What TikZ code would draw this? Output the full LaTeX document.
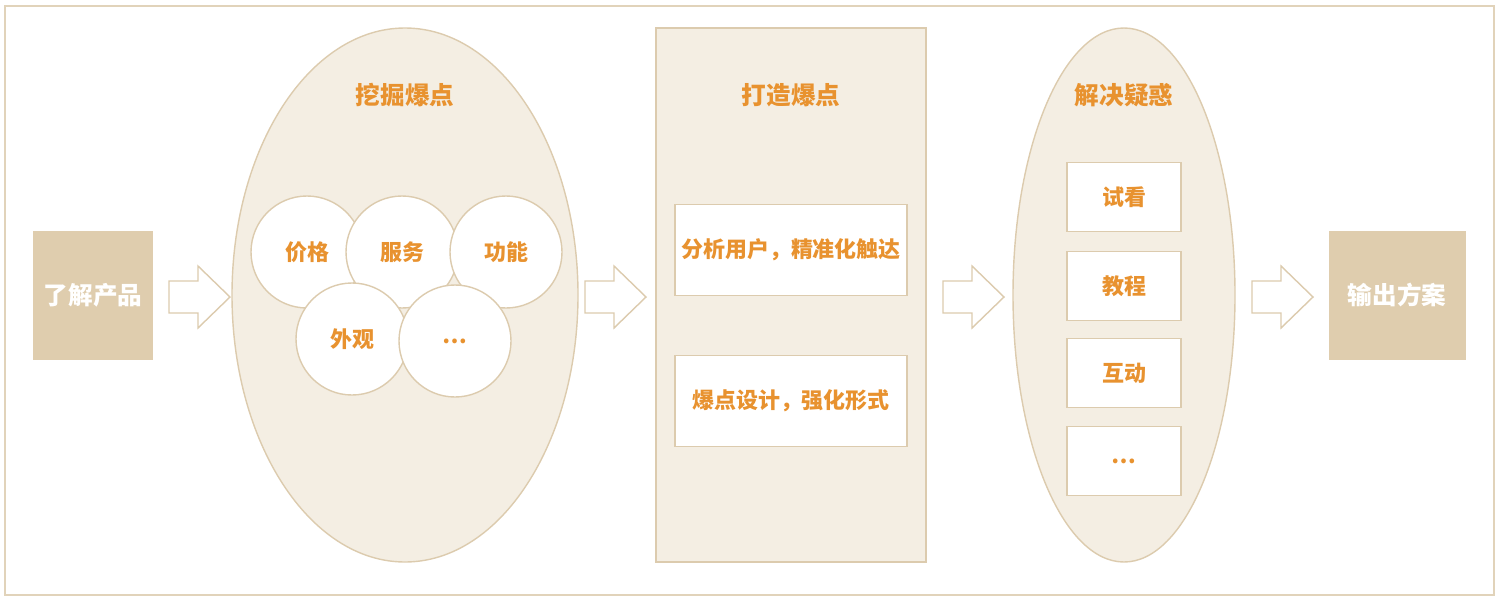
\documentclass[tikz,border=0pt]{standalone}
\usepackage{fontspec}
\newfontfamily\cjk{Noto Sans CJK SC}
\definecolor{sand}{HTML}{DFCDAE}
\definecolor{cream}{HTML}{F4EEE3}
\definecolor{edge}{HTML}{DCCBAE}
\definecolor{amber}{HTML}{E8922F}
\tikzset{
  endbox/.style={draw=none,fill=sand,minimum width=120*0.02cm,minimum height=129*0.02cm,
    text=white,font=\cjk\bfseries\fontsize{14}{16}\selectfont},
  stage/.style={draw=edge,fill=cream,line width=0.8pt},
  title/.style={text=amber,font=\cjk\bfseries\fontsize{14}{16}\selectfont},
  ball/.style={circle,draw=edge,fill=white,line width=0.8pt,minimum size=112*0.02cm,
    text=amber,font=\cjk\bfseries\fontsize{12.5}{14}\selectfont},
  card/.style={draw=edge,fill=white,line width=0.8pt,
    text=amber,font=\cjk\bfseries\fontsize{12.5}{14}\selectfont},
  fat/.style={draw=edge,fill=white,line width=0.8pt,line join=miter}
}
\begin{document}
\begin{tikzpicture}[x=0.02cm,y=-0.02cm]
  \useasboundingbox (0,0) rectangle (1500,602);
  \draw[draw=edge!85,line width=0.9pt] (5,6) rectangle (1494,595);
  % stages
  \draw[stage] (405,295) ellipse [x radius=173,y radius=267];
  \draw[stage] (656,28) rectangle (926,562);
  \draw[stage] (1124,295) ellipse [x radius=111,y radius=267];
  \node[title] (dig) at (405,95) {挖掘爆点};
  \node[title] (make) at (791,95) {打造爆点};
  \node[title] (solve) at (1124,95) {解决疑惑};
  % ends
  \node[endbox] (know) at (93,295) {了解产品};
  \node[endbox,minimum width=137*0.02cm] (plan) at (1397,295) {输出方案};
  % circles
  \node[ball] (price) at (307,252) {价格};
  \node[ball] (service) at (402,252) {服务};
  \node[ball] (func) at (506,252) {功能};
  \node[ball] (look) at (352,339) {外观};
  \node[ball] (more) at (455,341) {…};
  % cards
  \node[card,minimum width=232*0.02cm,minimum height=91*0.02cm] (user) at (791,250) {分析用户，精准化触达};
  \node[card,minimum width=232*0.02cm,minimum height=91*0.02cm] (form) at (791,401) {爆点设计，强化形式};
  \node[card,minimum width=114*0.02cm,minimum height=69*0.02cm] (try) at (1124,197) {试看};
  \node[card,minimum width=114*0.02cm,minimum height=69*0.02cm] (teach) at (1124,286) {教程};
  \node[card,minimum width=114*0.02cm,minimum height=69*0.02cm] (talk) at (1124,373) {互动};
  \node[card,minimum width=114*0.02cm,minimum height=69*0.02cm] (etc) at (1124,461) {…};
  % arrows
  \foreach \x in {169,585,943,1252}
    \draw[fat] (\x,281) -- (\x+29,281) -- (\x+29,266) -- (\x+61,297)
      -- (\x+29,328) -- (\x+29,313) -- (\x,313) -- cycle;
\end{tikzpicture}
\end{document}
